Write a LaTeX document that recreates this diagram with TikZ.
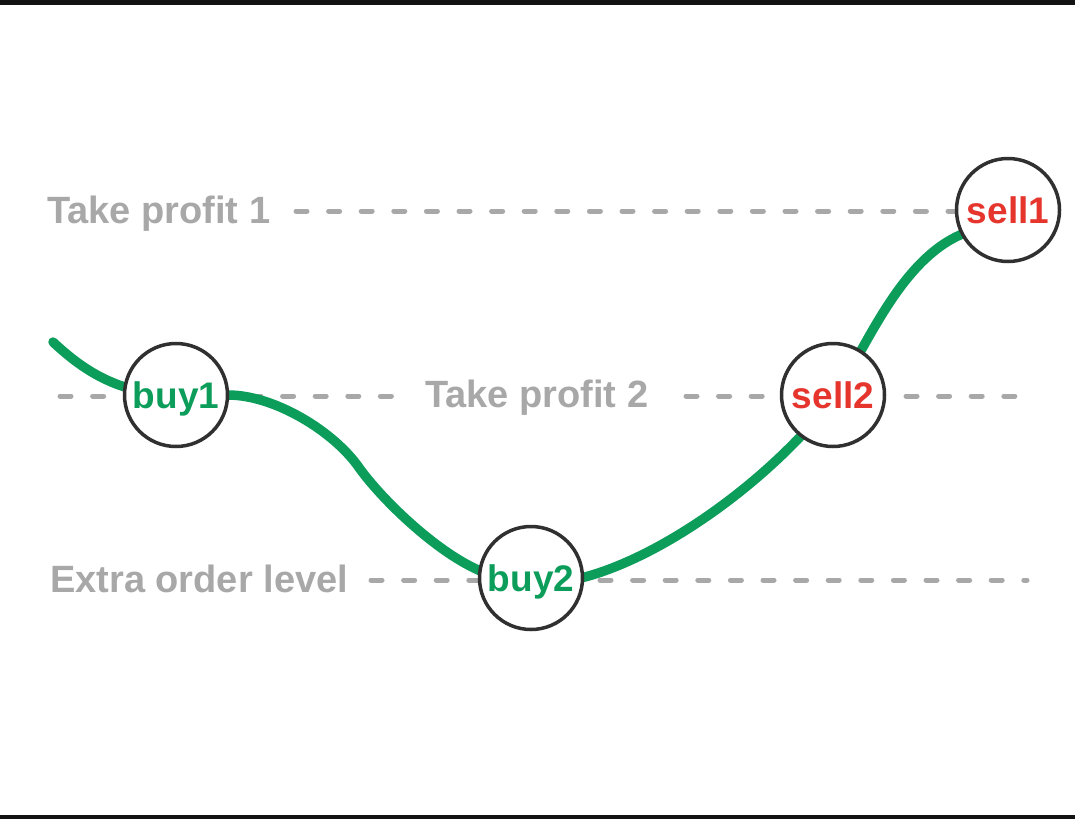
\documentclass[tikz,border=0pt]{standalone}
\usepackage{fontspec}
\setmainfont{Liberation Sans}
\definecolor{lvlgray}{HTML}{A8A8A8}
\definecolor{pricegreen}{HTML}{0C9D5B}
\definecolor{sellred}{HTML}{E5352D}
\definecolor{ringgray}{HTML}{303030}
\tikzset{
  lvltext/.style={inner sep=0pt, text=lvlgray, font=\fontsize{38}{40}\selectfont\bfseries, anchor=base west},
  dl/.style={draw=lvlgray, line width=5pt, line cap=round, dash pattern=on 11pt off 21.6pt},
  ring/.style={circle, draw=ringgray, line width=3.5pt, fill=white, minimum size=103pt, inner sep=0pt,
    font=\fontsize{37}{40}\selectfont\bfseries, text height=26.5pt, text depth=0pt},
  buyring/.style={ring, text=pricegreen},
  sellring/.style={ring, text=sellred},
  price/.style={draw=pricegreen, line width=9.5pt, line cap=round, line join=round}
}
\begin{document}
\begin{tikzpicture}[x=1pt,y=-1pt]
\useasboundingbox (0,0) rectangle (1075,819);
\fill[white] (0,0) rectangle (1075,819);
\fill[black!93] (0,0) rectangle (1075,4.5);
\fill[black!93] (0,814.5) rectangle (1075,819);

% level labels
\node[lvltext] (tp1) at (47,223) {Take profit 1};
\node[lvltext] (tp2) at (425,407) {Take profit 2};
\node[lvltext] (eol) at (50,592) {Extra order level};

% free ends of level lines
\coordinate (tp1s) at (296,211);
\coordinate (tp2s) at (60,396);
\coordinate (tp2e) at (1018,396);
\coordinate (eols) at (371,580);
\coordinate (eole) at (1027,580);
\coordinate (b1r) at (250,396);
\coordinate (tp2l) at (392,396);
\coordinate (tp2r) at (686,396);
\coordinate (s2r) at (906,396);
\coordinate (b2r) at (600,580);

% dashed level lines
\draw[dl] (tp1s) -- (955,211);
\draw[dl] (tp2s) -- (120,396);
\draw[dl] (b1r) -- (tp2l);
\draw[dl] (tp2r) -- (780,396);
\draw[dl] (s2r) -- (tp2e);
\draw[dl] (eols) -- (478,580);
\draw[dl] (b2r) -- (eole);

% price curve
\coordinate (start) at (53,342);
\draw[price] (start) .. controls (85,372) and (120,394) .. (176,395)
  -- (228,395) .. controls (275,395) and (335,432) .. (360,469)
  .. controls (385,503) and (440,555) .. (483,572)
  .. controls (505,583) and (555,582) .. (585,577)
  .. controls (655,558) and (740,500) .. (800,437)
  .. controls (825,410) and (850,370) .. (863,347)
  .. controls (885,308) and (915,255) .. (960,235)
  -- (1008,210);

% order circles
\node[buyring] (buy1) at (176,395) {buy1};
\node[buyring] (buy2) at (531,578) {buy2};
\node[sellring] (sell2) at (833,395) {sell2};
\node[sellring] (sell1) at (1008,210) {sell1};
\end{tikzpicture}
\end{document}
